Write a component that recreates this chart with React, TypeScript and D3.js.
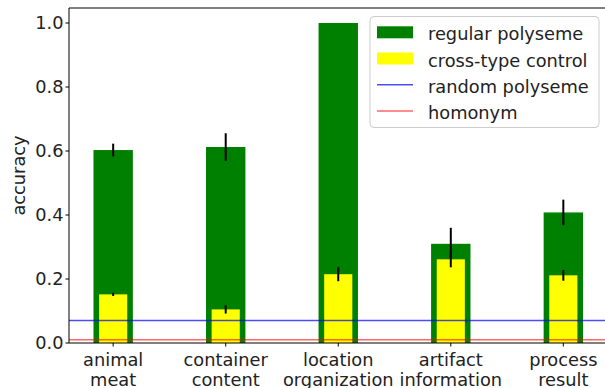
import * as d3 from 'd3';
import React from 'react';

const categories = ['animal\nmeat', 'container\ncontent', 'location\norganization', 'artifact\ninformation', 'process\nresult'];
const regular = [0.603, 0.6125, 1.0, 0.31, 0.408];
const regularErr = [0.02, 0.043, 0, 0.05, 0.04];
const control = [0.152, 0.105, 0.215, 0.2615, 0.2115];
const controlErr = [0.005, 0.013, 0.022, 0.025, 0.017];
const randomPolyseme = 0.07;
const homonym = 0.01;
const yTicks = [0, 0.2, 0.4, 0.6, 0.8, 1.0];
const legendItems = [
  { label: 'regular polyseme', kind: 'bar', color: 'green' },
  { label: 'cross-type control', kind: 'bar', color: 'yellow' },
  { label: 'random polyseme', kind: 'line', color: 'rgba(0,0,255,0.7)' },
  { label: 'homonym', kind: 'line', color: 'rgba(255,0,0,0.6)' },
];

const W = 605;
const H = 388;
const left = 69;
const top = 8;
const bottom = 343;
const font = 'DejaVu Sans, sans-serif';
const fs = 17.8;

const App = () => {
  const x = d3.scaleLinear().domain([-0.3925, 4.3925]).range([left, 607.5]);
  const y = d3.scaleLinear().domain([0, 1.0469]).range([bottom, top]);
  const bw = x(0.35) - x(0);
  const yw = x(0.25) - x(0);

  return (
    <svg width={W} height={H} style={{ position: 'absolute', left: 0, top: 0 }} fontFamily={font}>
      <rect width={W} height={H} fill="white" />
      {regular.map((v, i) => (
        <g key={'r' + i}>
          <rect x={x(i) - bw / 2} y={y(v)} width={bw} height={y(0) - y(v)} fill="green" />
          {regularErr[i] > 0 && (
            <line x1={x(i)} x2={x(i)} y1={y(v + regularErr[i])} y2={y(v - regularErr[i])} stroke="black" strokeWidth={2} />
          )}
        </g>
      ))}
      {control.map((v, i) => (
        <g key={'c' + i}>
          <rect x={x(i) - yw / 2} y={y(v)} width={yw} height={y(0) - y(v)} fill="yellow" />
          <line x1={x(i)} x2={x(i)} y1={y(v + controlErr[i])} y2={y(v - controlErr[i])} stroke="black" strokeWidth={2} />
        </g>
      ))}
      <line x1={left} x2={W} y1={y(randomPolyseme)} y2={y(randomPolyseme)} stroke="rgba(0,0,255,0.7)" strokeWidth={1.5} />
      <line x1={left} x2={W} y1={y(homonym)} y2={y(homonym)} stroke="rgba(255,0,0,0.6)" strokeWidth={1.5} />

      {/* spines */}
      <line x1={left} x2={left} y1={top} y2={bottom} stroke="black" strokeWidth={1} />
      <line x1={left} x2={W} y1={bottom} y2={bottom} stroke="black" strokeWidth={1} />
      <line x1={left} x2={W} y1={top} y2={top} stroke="black" strokeWidth={1} />

      {yTicks.map((t) => (
        <g key={'yt' + t}>
          <line x1={left - 3.5} x2={left} y1={y(t)} y2={y(t)} stroke="black" />
          <text x={63.5} y={y(t)} dy="0.36em" textAnchor="end" fontSize={fs} fill="#222">
            {t.toFixed(1)}
          </text>
        </g>
      ))}
      {categories.map((c, i) => (
        <g key={'xt' + i}>
          <line x1={x(i)} x2={x(i)} y1={bottom} y2={bottom + 3.5} stroke="black" />
          {c.split('\n').map((s, j) => (
            <text key={j} x={x(i)} y={366 + j * 19.7} textAnchor="middle" fontSize={fs} fill="#222">
              {s}
            </text>
          ))}
        </g>
      ))}
      <text transform={`translate(25,${(top + bottom) / 2}) rotate(-90)`} textAnchor="middle" fontSize={fs} fill="#222">
        accuracy
      </text>

      {/* legend */}
      <rect x={370} y={16.5} width={229} height={111} rx={4} fill="white" fillOpacity={0.8} stroke="#ccc" />
      {legendItems.map((d, i) => {
        const cy = 32.3 + i * 26.2;
        return (
          <g key={d.label}>
            {d.kind === 'bar' ? (
              <rect x={377} y={cy - 6} width={36} height={12} fill={d.color} />
            ) : (
              <line x1={377} x2={413} y1={cy} y2={cy} stroke={d.color} strokeWidth={1.5} />
            )}
            <text x={428} y={cy + 8} fontSize={fs} fill="#222">
              {d.label}
            </text>
          </g>
        );
      })}
    </svg>
  );
};

export default App;
